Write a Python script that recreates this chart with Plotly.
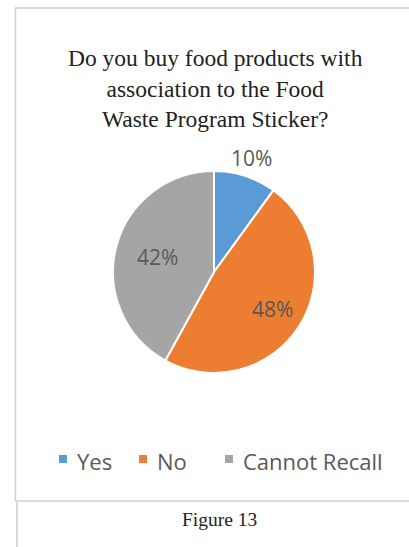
import math
import plotly.graph_objects as go

categories = ["Yes", "No", "Cannot Recall"]
shares = [10, 48, 42]
colors = ["#5B9BD5", "#ED7D31", "#A5A5A5"]
# distance of each percentage label from the pie centre, as a fraction of the radius
label_radius = [1.19, 0.69, 0.58]

W, H = 409, 547
CX, CY, R = 214, 272, 101  # pie centre and radius in pixels
LEGEND_X = [63, 143, 229]   # legend swatch centres in pixels
LEGEND_Y = 461

LABEL_FONT = "Open Sans, Liberation Sans, sans-serif"
SERIF_FONT = "Liberation Serif, DejaVu Serif, serif"


def px_x(v):
    return v / W


def px_y(v):
    return 1 - v / H


fig = go.Figure()
fig.add_trace(go.Pie(
    labels=categories,
    values=shares,
    sort=False,
    direction="clockwise",
    rotation=0,
    marker=dict(colors=colors, line=dict(color="white", width=2)),
    textinfo="none",
    domain=dict(x=[px_x(CX - R), px_x(CX + R)], y=[px_y(CY + R), px_y(CY - R)]),
    hoverinfo="label+percent",
    showlegend=False,
))

# percentage labels at each slice's mid-angle
total = sum(shares)
start = 0.0
for value, k in zip(shares, label_radius):
    mid = (start + value / 2) / total * 2 * math.pi
    start += value
    fig.add_annotation(
        text=f"{value}%", xref="paper", yref="paper",
        x=px_x(CX + k * R * math.sin(mid)), y=px_y(CY - k * R * math.cos(mid)),
        xanchor="center", yanchor="middle", showarrow=False,
        font=dict(family=LABEL_FONT, size=21, color="#595959"),
    )

# legend: square swatch followed by the category name
for name, color, lx in zip(categories, colors, LEGEND_X):
    fig.add_shape(type="rect", xref="paper", yref="paper",
                  x0=px_x(lx - 4), x1=px_x(lx + 4),
                  y0=px_y(LEGEND_Y + 2), y1=px_y(LEGEND_Y - 6),
                  line=dict(width=0), fillcolor=color)
    fig.add_annotation(
        text=name, xref="paper", yref="paper",
        x=px_x(lx + 12), y=px_y(LEGEND_Y), xanchor="left", yanchor="middle",
        showarrow=False, font=dict(family=LABEL_FONT, size=22, color="#595959"),
    )

# chart frame and caption rule
fig.add_shape(type="rect", xref="paper", yref="paper",
              x0=px_x(15.5), x1=px_x(412), y0=px_y(501), y1=px_y(8),
              line=dict(color="#CFCFCF", width=1.5), fillcolor="rgba(0,0,0,0)")
fig.add_shape(type="line", xref="paper", yref="paper",
              x0=px_x(17), x1=px_x(17), y0=0, y1=px_y(502),
              line=dict(color="#CFCFCF", width=1.5))

fig.add_annotation(
    text="Do you buy food products with<br>association to the Food<br>Waste Program Sticker?",
    xref="paper", yref="paper", x=px_x(215), y=px_y(88),
    xanchor="center", yanchor="middle", showarrow=False, align="center",
    font=dict(family=SERIF_FONT, size=23.5, color="#222222"),
)
fig.add_annotation(
    text="Figure 13",
    xref="paper", yref="paper", x=px_x(219), y=px_y(519),
    xanchor="center", yanchor="middle", showarrow=False,
    font=dict(family=SERIF_FONT, size=19.5, color="#222222"),
)

fig.update_layout(
    width=W, height=H,
    margin=dict(l=0, r=0, t=0, b=0),
    paper_bgcolor="white",
    plot_bgcolor="white",
    showlegend=False,
)

fig.write_html("out.html")
